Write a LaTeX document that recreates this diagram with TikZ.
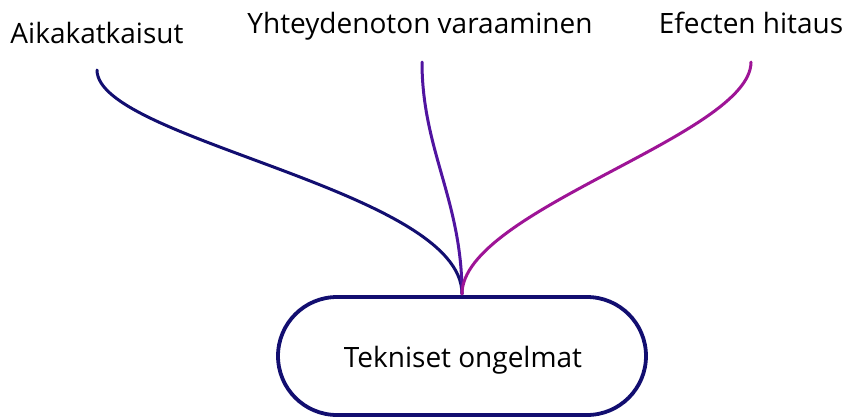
\documentclass[tikz,border=0pt]{standalone}
\usepackage{fontspec}
\setmainfont{Open Sans}
\begin{document}
\begin{tikzpicture}[x=1pt,y=-1pt,
  lbl/.style={font=\fontsize{28}{32}\selectfont, text=black, inner sep=0pt, anchor=base},
  link/.style={line width=3pt, line cap=round}]
\definecolor{navy}{RGB}{18,14,112}
\definecolor{violet}{RGB}{80,20,160}
\definecolor{magentab}{RGB}{158,20,150}
\useasboundingbox (0,0) rectangle (845,418);
\node[draw=navy, line width=3.8pt, rounded corners=59pt, minimum width=368pt, minimum height=118pt, inner sep=0pt] (box) at (462,356) {};
\node[lbl] (tt) at (463,367) {Tekniset ongelmat};
\node[lbl] (a) at (97,43) {Aikakatkaisut};
\node[lbl] (b) at (420,33) {Yhteydenoton varaaminen};
\node[lbl] (c) at (751,33) {Efecten hitaus};
\coordinate (a0) at (97,70);
\coordinate (b0) at (422,62);
\coordinate (c0) at (751,62);
\coordinate (j) at (462,294);
\draw[link, navy] (a0) .. controls (97,140) and (462,190) .. (j);
\draw[link, violet] (b0) .. controls (422,150) and (462,200) .. (j);
\draw[link, magentab] (c0) .. controls (751,135) and (462,210) .. (j);
\end{tikzpicture}
\end{document}
